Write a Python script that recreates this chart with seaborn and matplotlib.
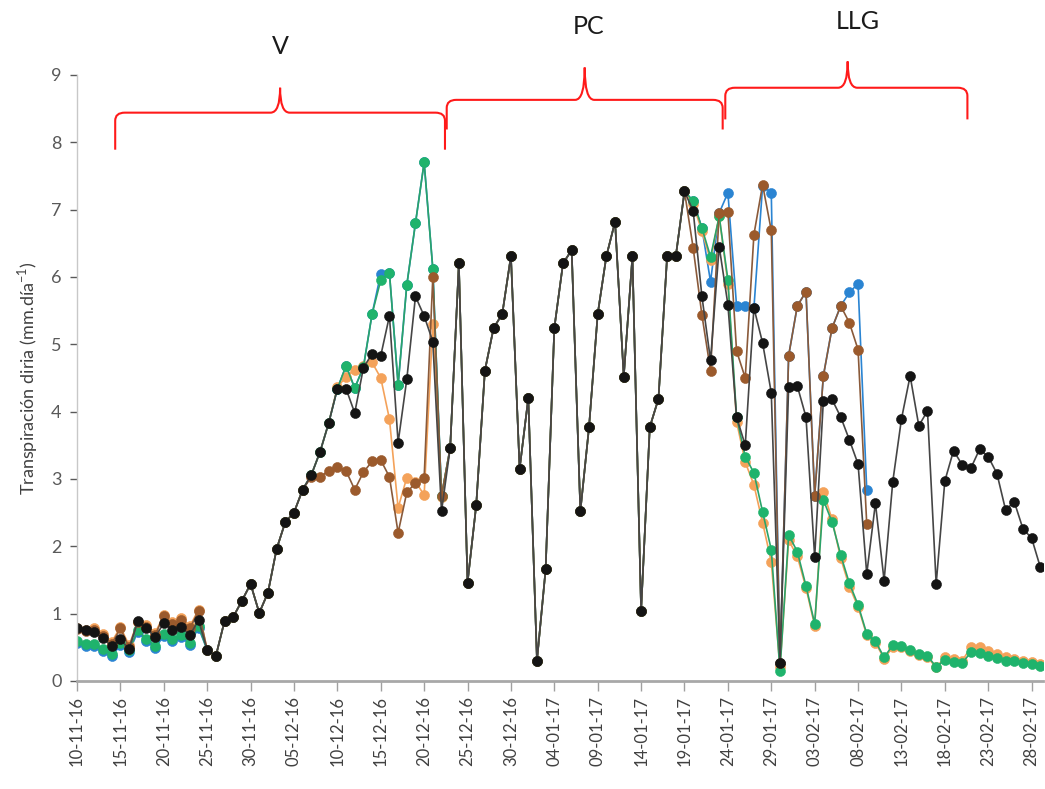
import numpy as np
import pandas as pd
import matplotlib
matplotlib.use("Agg")
import matplotlib.pyplot as plt
import matplotlib.dates as mdates
from matplotlib.path import Path
from matplotlib.patches import PathPatch
import seaborn as sns

# ---------------- data ----------------
start_date = "2016-11-10"
n_days = 112
dates = pd.date_range(start_date, periods=n_days, freq="D")

tick_labels = ["10-11-16", "15-11-16", "20-11-16", "25-11-16", "30-11-16",
               "05-12-16", "10-12-16", "15-12-16", "20-12-16", "25-12-16",
               "30-12-16", "04-01-17", "09-01-17", "14-01-17", "19-01-17",
               "24-01-17", "29-01-17", "03-02-17", "08-02-17", "13-02-17",
               "18-02-17", "23-02-17", "28-02-17"]

black = [0.79, 0.75, 0.73, 0.63, 0.52, 0.62, 0.47, 0.89, 0.78, 0.65, 0.86, 0.76,
         0.80, 0.68, 0.90, 0.46, 0.37, 0.89, 0.95, 1.19, 1.44, 1.01, 1.31,
         1.96, 2.36, 2.50, 2.84, 3.06, 3.40, 3.83, 4.34, 4.34, 3.98, 4.65, 4.86,
         4.83, 5.42, 3.54, 4.48, 5.71, 5.42, 5.04, 2.52, 3.46,
         6.20, 1.46, 2.61, 4.61, 5.24, 5.45, 6.31, 3.15, 4.20, 0.30, 1.66, 5.24,
         6.20, 6.40, 2.52, 3.77, 5.45, 6.31, 6.82, 4.52, 6.31, 1.04, 3.77, 4.19,
         6.31, 6.31, 7.27,
         6.98, 5.72, 4.76, 6.45, 5.59, 3.92, 3.50, 5.54, 5.02, 4.28, 0.27, 4.37,
         4.38, 3.92, 1.84, 4.16, 4.18, 3.92, 3.58, 3.22, 1.59,
         2.64, 1.49, 2.96, 3.89, 4.53, 3.79, 4.01, 1.44, 2.97, 3.42, 3.21, 3.16,
         3.44, 3.33, 3.08, 2.54, 2.66, 2.26, 2.12, 1.69]

brown_v_early = [0.77, 0.74, 0.76, 0.67, 0.55, 0.78, 0.50, 0.88, 0.80, 0.68,
                 0.97, 0.84, 0.90, 0.78, 1.04]
brown_v_late = [3.03, 3.03, 3.12, 3.18, 3.12, 2.84, 3.10, 3.26, 3.28, 3.03,
                2.20, 2.80, 2.94, 3.02, 6.00, 2.75]
brown_llg = [6.43, 5.44, 4.61, 6.95, 6.97, 4.90, 4.50, 6.63, 7.37, 6.69, 0.27,
             4.83, 5.57, 5.78, 2.75, 4.53, 5.24, 5.57, 5.32, 4.92, 2.33]

orange_v_early = [0.79, 0.76, 0.78, 0.69, 0.58, 0.80, 0.53, 0.88, 0.83, 0.71,
                  0.98, 0.87, 0.93, 0.81, 1.06]
orange_v_late = [4.36, 4.52, 4.62, 4.68, 4.73, 4.50, 3.89, 2.57, 3.02, 2.96,
                 2.76, 5.30, 2.73]
orange_llg = [7.08, 6.68, 6.25, 6.90, 5.90, 3.85, 3.25, 2.91, 2.35, 1.77, 0.20,
              2.09, 1.85, 1.38, 0.82, 2.81, 2.40, 1.82, 1.40, 1.10, 0.68,
              0.57, 0.33, 0.50, 0.50, 0.44, 0.38, 0.35, 0.20, 0.35, 0.33, 0.30,
              0.50, 0.50, 0.45, 0.40, 0.36, 0.33, 0.30, 0.28, 0.25]

green_v_early = [0.60, 0.55, 0.55, 0.47, 0.40, 0.56, 0.46, 0.76, 0.62, 0.52,
                 0.70, 0.62, 0.68, 0.57, 0.82]
green_v_late = [4.68, 4.35, 4.66, 5.45, 5.95, 6.06, 4.40, 5.88, 6.80, 7.70,
                6.12, 2.75]
green_llg = [7.13, 6.73, 6.30, 6.90, 5.96, 3.92, 3.33, 3.09, 2.51, 1.95, 0.15,
             2.17, 1.92, 1.41, 0.85, 2.69, 2.36, 1.87, 1.45, 1.13, 0.70,
             0.59, 0.35, 0.53, 0.52, 0.46, 0.40, 0.37, 0.21, 0.31, 0.28, 0.26,
             0.43, 0.42, 0.37, 0.34, 0.30, 0.29, 0.26, 0.25, 0.22]

blue_v_early = [0.57, 0.52, 0.52, 0.44, 0.37, 0.53, 0.43, 0.73, 0.59, 0.49,
                0.67, 0.59, 0.65, 0.54, 0.79]
blue_v_late = [4.68, 4.35, 4.66, 5.45, 6.05, 6.06, 4.40, 5.88, 6.80, 7.70,
               6.12, 2.75]
blue_llg = [7.13, 6.73, 5.93, 6.95, 7.25, 5.57, 5.57, 5.54, 7.35, 7.25, 0.27,
            4.83, 5.57, 5.78, 2.75, 4.53, 5.24, 5.57, 5.77, 5.90, 2.84]

pad = [np.nan] * 20
brown = brown_v_early + black[15:27] + brown_v_late + black[43:71] + brown_llg + pad
orange = orange_v_early + black[15:30] + orange_v_late + black[43:71] + orange_llg
green = green_v_early + black[15:31] + green_v_late + black[43:71] + green_llg
blue = blue_v_early + black[15:31] + blue_v_late + black[43:71] + blue_llg + pad

series = {"blue": blue, "orange": orange, "green": green, "brown": brown, "black": black}
colors = {"blue": "#2a84d2", "orange": "#f4a25a", "green": "#1fb36c",
          "brown": "#9b5a2c", "black": "#141414"}
line_colors = {"blue": "#2a84d2", "orange": "#f4a25a", "green": "#2aa36a",
               "brown": "#8a5a3a", "black": "#454545"}

phase_labels = ["V", "PC", "LLG"]
phase_start = [4.4, 42.6, 74.7]     # day offsets
phase_end = [42.4, 74.4, 102.6]
phase_peak = [23.4, 58.5, 88.8]
phase_yh = [8.44, 8.63, 8.81]
phase_ytop = [8.81, 9.11, 9.20]
phase_yend = [7.89, 8.19, 8.34]
label_y = [9.42, 9.72, 9.79]
label_x = [23.4, 58.9, 90.0]

# ---------------- figure ----------------
sns.set_theme(style="white")
plt.rcParams["font.family"] = ["Lato", "DejaVu Sans"]

fig = plt.figure(figsize=(10.45, 7.89), dpi=100)
ax = fig.add_axes([0.0737, 0.137, 0.9243, 0.768])

for name, vals in series.items():
    df = pd.DataFrame({"date": dates, "value": vals}).dropna()
    sns.lineplot(data=df, x="date", y="value", ax=ax, color=line_colors[name],
                 marker="o", markersize=7.2, markerfacecolor=colors[name],
                 markeredgecolor=colors[name], markeredgewidth=0.4,
                 linewidth=1.2, estimator=None, errorbar=None, sort=False)

d0 = mdates.date2num(dates[0])
ax.set_xlim(d0, d0 + n_days - 1 + 0.3)
ax.set_ylim(0, 9)
ax.set_yticks(range(0, 10))
tick_pos = pd.to_datetime(tick_labels, format="%d-%m-%y")
ax.set_xticks(tick_pos)
ax.set_xticklabels(tick_labels, rotation=90, fontsize=12, color="#404040")
ax.tick_params(axis="y", labelsize=13, colors="#595959", length=5, width=1,
               direction="out", left=True, pad=6)
ax.tick_params(axis="x", length=7, width=1, color="#a0a0a0", direction="out",
               bottom=True, pad=4)
for lab in ax.get_yticklabels():
    lab.set_color("#595959")
ax.set_xlabel("")
ax.set_ylabel(r"Transpiración diria (mm.día$^{\mathregular{-1}}$)", fontsize=13,
              color="#404040", labelpad=8)
for s in ["top", "right"]:
    ax.spines[s].set_visible(False)
ax.spines["left"].set_color("#c8c8c8")
ax.spines["left"].set_linewidth(1)
ax.spines["bottom"].set_color("#a8a8a8")
ax.spines["bottom"].set_linewidth(2)

# phase braces
def brace(x0, x1, xp, yh, ytop, yend, rx=1.1, ry=0.12):
    x0, x1, xp = d0 + x0, d0 + x1, d0 + xp
    verts = [(x0, yend), (x0, yh - ry), (x0, yh), (x0 + rx, yh),
             (xp - rx, yh), (xp, yh), (xp, ytop),
             (xp, yh), (xp + rx, yh),
             (x1 - rx, yh), (x1, yh), (x1, yh - ry), (x1, yend)]
    codes = [Path.MOVETO, Path.LINETO, Path.CURVE3, Path.CURVE3,
             Path.LINETO, Path.CURVE3, Path.CURVE3,
             Path.CURVE3, Path.CURVE3,
             Path.LINETO, Path.CURVE3, Path.CURVE3, Path.LINETO]
    p = PathPatch(Path(verts, codes), fill=False, edgecolor="#ff1a1a",
                  linewidth=1.5, clip_on=False)
    ax.add_patch(p)

for i, lab in enumerate(phase_labels):
    brace(phase_start[i], phase_end[i], phase_peak[i], phase_yh[i],
          phase_ytop[i], phase_yend[i])
    ax.text(d0 + label_x[i], label_y[i], lab, fontsize=18, ha="center",
            va="center", color="#1a1a1a", clip_on=False)

fig.savefig("out.png", dpi=100)
